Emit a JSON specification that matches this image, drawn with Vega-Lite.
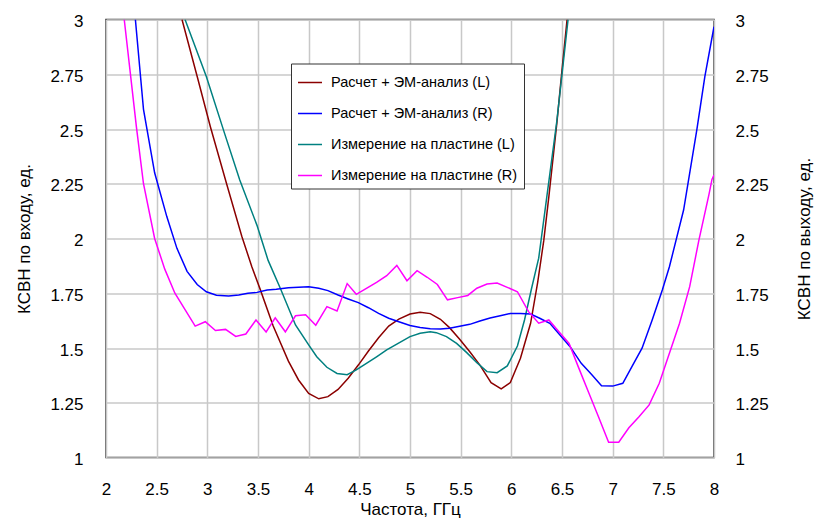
{
  "$schema": "https://vega.github.io/schema/vega-lite/v6.json",
  "autosize": {"type": "none"},
  "padding": {"left": 106, "top": 19.5, "right": 102, "bottom": 71.5},
  "width": 608,
  "height": 438,
  "background": "white",
  "config": {
    "font": "Liberation Sans, Arial, sans-serif",
    "view": {"stroke": "#333333", "strokeWidth": 1.5},
    "axis": {
      "labelFont": "Liberation Sans, sans-serif",
      "titleFont": "Liberation Sans, sans-serif",
      "labelFontSize": 17,
      "titleFontSize": 17,
      "labelColor": "#000000",
      "titleColor": "#000000",
      "titleFontWeight": "normal",
      "ticks": false,
      "tickSize": 0,
      "domain": false,
      "gridColor": "#c8c8c8",
      "gridWidth": 1.5,
      "gridOpacity": 1
    },
    "legend": {
      "labelFont": "Liberation Sans, sans-serif",
      "labelFontSize": 14.5,
      "labelColor": "#000000"
    }
  },
  "data": {
    "values": [
      {"f": 2.75, "v": 3.0, "s": "Расчет + ЭМ-анализ (L)"},
      {"f": 2.90, "v": 2.74, "s": "Расчет + ЭМ-анализ (L)"},
      {"f": 3.03, "v": 2.51, "s": "Расчет + ЭМ-анализ (L)"},
      {"f": 3.19, "v": 2.25, "s": "Расчет + ЭМ-анализ (L)"},
      {"f": 3.34, "v": 2.01, "s": "Расчет + ЭМ-анализ (L)"},
      {"f": 3.44, "v": 1.87, "s": "Расчет + ЭМ-анализ (L)"},
      {"f": 3.52, "v": 1.77, "s": "Расчет + ЭМ-анализ (L)"},
      {"f": 3.65, "v": 1.60, "s": "Расчет + ЭМ-анализ (L)"},
      {"f": 3.80, "v": 1.44, "s": "Расчет + ЭМ-анализ (L)"},
      {"f": 3.90, "v": 1.354, "s": "Расчет + ЭМ-анализ (L)"},
      {"f": 4.00, "v": 1.293, "s": "Расчет + ЭМ-анализ (L)"},
      {"f": 4.10, "v": 1.268, "s": "Расчет + ЭМ-анализ (L)"},
      {"f": 4.19, "v": 1.278, "s": "Расчет + ЭМ-анализ (L)"},
      {"f": 4.29, "v": 1.311, "s": "Расчет + ЭМ-анализ (L)"},
      {"f": 4.39, "v": 1.362, "s": "Расчет + ЭМ-анализ (L)"},
      {"f": 4.49, "v": 1.422, "s": "Расчет + ЭМ-анализ (L)"},
      {"f": 4.59, "v": 1.486, "s": "Расчет + ЭМ-анализ (L)"},
      {"f": 4.69, "v": 1.547, "s": "Расчет + ЭМ-анализ (L)"},
      {"f": 4.79, "v": 1.600, "s": "Расчет + ЭМ-анализ (L)"},
      {"f": 4.89, "v": 1.632, "s": "Расчет + ЭМ-анализ (L)"},
      {"f": 5.00, "v": 1.655, "s": "Расчет + ЭМ-анализ (L)"},
      {"f": 5.10, "v": 1.663, "s": "Расчет + ЭМ-анализ (L)"},
      {"f": 5.20, "v": 1.657, "s": "Расчет + ЭМ-анализ (L)"},
      {"f": 5.30, "v": 1.631, "s": "Расчет + ЭМ-анализ (L)"},
      {"f": 5.39, "v": 1.593, "s": "Расчет + ЭМ-анализ (L)"},
      {"f": 5.49, "v": 1.540, "s": "Расчет + ЭМ-анализ (L)"},
      {"f": 5.59, "v": 1.483, "s": "Расчет + ЭМ-анализ (L)"},
      {"f": 5.69, "v": 1.422, "s": "Расчет + ЭМ-анализ (L)"},
      {"f": 5.80, "v": 1.342, "s": "Расчет + ЭМ-анализ (L)"},
      {"f": 5.90, "v": 1.313, "s": "Расчет + ЭМ-анализ (L)"},
      {"f": 5.99, "v": 1.342, "s": "Расчет + ЭМ-анализ (L)"},
      {"f": 6.09, "v": 1.453, "s": "Расчет + ЭМ-анализ (L)"},
      {"f": 6.19, "v": 1.613, "s": "Расчет + ЭМ-анализ (L)"},
      {"f": 6.26, "v": 1.80, "s": "Расчет + ЭМ-анализ (L)"},
      {"f": 6.32, "v": 1.99, "s": "Расчет + ЭМ-анализ (L)"},
      {"f": 6.37, "v": 2.19, "s": "Расчет + ЭМ-анализ (L)"},
      {"f": 6.45, "v": 2.53, "s": "Расчет + ЭМ-анализ (L)"},
      {"f": 6.50, "v": 2.77, "s": "Расчет + ЭМ-анализ (L)"},
      {"f": 6.55, "v": 3.0, "s": "Расчет + ЭМ-анализ (L)"},

      {"f": 2.29, "v": 3.0, "s": "Расчет + ЭМ-анализ (R)"},
      {"f": 2.37, "v": 2.59, "s": "Расчет + ЭМ-анализ (R)"},
      {"f": 2.48, "v": 2.30, "s": "Расчет + ЭМ-анализ (R)"},
      {"f": 2.60, "v": 2.10, "s": "Расчет + ЭМ-анализ (R)"},
      {"f": 2.70, "v": 1.955, "s": "Расчет + ЭМ-анализ (R)"},
      {"f": 2.80, "v": 1.85, "s": "Расчет + ЭМ-анализ (R)"},
      {"f": 2.90, "v": 1.79, "s": "Расчет + ЭМ-анализ (R)"},
      {"f": 2.99, "v": 1.757, "s": "Расчет + ЭМ-анализ (R)"},
      {"f": 3.09, "v": 1.741, "s": "Расчет + ЭМ-анализ (R)"},
      {"f": 3.21, "v": 1.737, "s": "Расчет + ЭМ-анализ (R)"},
      {"f": 3.31, "v": 1.742, "s": "Расчет + ЭМ-анализ (R)"},
      {"f": 3.40, "v": 1.750, "s": "Расчет + ЭМ-анализ (R)"},
      {"f": 3.49, "v": 1.754, "s": "Расчет + ЭМ-анализ (R)"},
      {"f": 3.59, "v": 1.765, "s": "Расчет + ЭМ-анализ (R)"},
      {"f": 3.68, "v": 1.768, "s": "Расчет + ЭМ-анализ (R)"},
      {"f": 3.80, "v": 1.775, "s": "Расчет + ЭМ-анализ (R)"},
      {"f": 3.90, "v": 1.777, "s": "Расчет + ЭМ-анализ (R)"},
      {"f": 4.00, "v": 1.780, "s": "Расчет + ЭМ-анализ (R)"},
      {"f": 4.10, "v": 1.773, "s": "Расчет + ЭМ-анализ (R)"},
      {"f": 4.19, "v": 1.762, "s": "Расчет + ЭМ-анализ (R)"},
      {"f": 4.29, "v": 1.742, "s": "Расчет + ЭМ-анализ (R)"},
      {"f": 4.39, "v": 1.724, "s": "Расчет + ЭМ-анализ (R)"},
      {"f": 4.49, "v": 1.707, "s": "Расчет + ЭМ-анализ (R)"},
      {"f": 4.59, "v": 1.684, "s": "Расчет + ЭМ-анализ (R)"},
      {"f": 4.69, "v": 1.658, "s": "Расчет + ЭМ-анализ (R)"},
      {"f": 4.79, "v": 1.636, "s": "Расчет + ЭМ-анализ (R)"},
      {"f": 4.89, "v": 1.620, "s": "Расчет + ЭМ-анализ (R)"},
      {"f": 5.00, "v": 1.603, "s": "Расчет + ЭМ-анализ (R)"},
      {"f": 5.10, "v": 1.594, "s": "Расчет + ЭМ-анализ (R)"},
      {"f": 5.20, "v": 1.588, "s": "Расчет + ЭМ-анализ (R)"},
      {"f": 5.30, "v": 1.587, "s": "Расчет + ЭМ-анализ (R)"},
      {"f": 5.39, "v": 1.590, "s": "Расчет + ЭМ-анализ (R)"},
      {"f": 5.49, "v": 1.599, "s": "Расчет + ЭМ-анализ (R)"},
      {"f": 5.59, "v": 1.608, "s": "Расчет + ЭМ-анализ (R)"},
      {"f": 5.69, "v": 1.623, "s": "Расчет + ЭМ-анализ (R)"},
      {"f": 5.79, "v": 1.637, "s": "Расчет + ЭМ-анализ (R)"},
      {"f": 5.89, "v": 1.647, "s": "Расчет + ЭМ-анализ (R)"},
      {"f": 5.99, "v": 1.658, "s": "Расчет + ЭМ-анализ (R)"},
      {"f": 6.09, "v": 1.657, "s": "Расчет + ЭМ-анализ (R)"},
      {"f": 6.19, "v": 1.655, "s": "Расчет + ЭМ-анализ (R)"},
      {"f": 6.28, "v": 1.636, "s": "Расчет + ЭМ-анализ (R)"},
      {"f": 6.38, "v": 1.613, "s": "Расчет + ЭМ-анализ (R)"},
      {"f": 6.48, "v": 1.559, "s": "Расчет + ЭМ-анализ (R)"},
      {"f": 6.58, "v": 1.506, "s": "Расчет + ЭМ-анализ (R)"},
      {"f": 6.69, "v": 1.430, "s": "Расчет + ЭМ-анализ (R)"},
      {"f": 6.79, "v": 1.380, "s": "Расчет + ЭМ-анализ (R)"},
      {"f": 6.89, "v": 1.328, "s": "Расчет + ЭМ-анализ (R)"},
      {"f": 7.00, "v": 1.326, "s": "Расчет + ЭМ-анализ (R)"},
      {"f": 7.10, "v": 1.339, "s": "Расчет + ЭМ-анализ (R)"},
      {"f": 7.19, "v": 1.415, "s": "Расчет + ЭМ-анализ (R)"},
      {"f": 7.29, "v": 1.499, "s": "Расчет + ЭМ-анализ (R)"},
      {"f": 7.39, "v": 1.628, "s": "Расчет + ЭМ-анализ (R)"},
      {"f": 7.49, "v": 1.765, "s": "Расчет + ЭМ-анализ (R)"},
      {"f": 7.56, "v": 1.871, "s": "Расчет + ЭМ-анализ (R)"},
      {"f": 7.70, "v": 2.13, "s": "Расчет + ЭМ-анализ (R)"},
      {"f": 7.83, "v": 2.495, "s": "Расчет + ЭМ-анализ (R)"},
      {"f": 7.91, "v": 2.74, "s": "Расчет + ЭМ-анализ (R)"},
      {"f": 8.00, "v": 2.967, "s": "Расчет + ЭМ-анализ (R)"},

      {"f": 2.78, "v": 3.0, "s": "Измерение на пластине (L)"},
      {"f": 2.99, "v": 2.74, "s": "Измерение на пластине (L)"},
      {"f": 3.17, "v": 2.48, "s": "Измерение на пластине (L)"},
      {"f": 3.32, "v": 2.267, "s": "Измерение на пластине (L)"},
      {"f": 3.49, "v": 2.06, "s": "Измерение на пластине (L)"},
      {"f": 3.60, "v": 1.90, "s": "Измерение на пластине (L)"},
      {"f": 3.72, "v": 1.773, "s": "Измерение на пластине (L)"},
      {"f": 3.87, "v": 1.605, "s": "Измерение на пластине (L)"},
      {"f": 4.00, "v": 1.514, "s": "Измерение на пластине (L)"},
      {"f": 4.08, "v": 1.460, "s": "Измерение на пластине (L)"},
      {"f": 4.18, "v": 1.412, "s": "Измерение на пластине (L)"},
      {"f": 4.28, "v": 1.384, "s": "Измерение на пластине (L)"},
      {"f": 4.38, "v": 1.378, "s": "Измерение на пластине (L)"},
      {"f": 4.47, "v": 1.400, "s": "Измерение на пластине (L)"},
      {"f": 4.57, "v": 1.430, "s": "Измерение на пластине (L)"},
      {"f": 4.67, "v": 1.460, "s": "Измерение на пластине (L)"},
      {"f": 4.77, "v": 1.491, "s": "Измерение на пластине (L)"},
      {"f": 4.87, "v": 1.518, "s": "Измерение на пластине (L)"},
      {"f": 5.00, "v": 1.552, "s": "Измерение на пластине (L)"},
      {"f": 5.10, "v": 1.567, "s": "Измерение на пластине (L)"},
      {"f": 5.20, "v": 1.574, "s": "Измерение на пластине (L)"},
      {"f": 5.26, "v": 1.570, "s": "Измерение на пластине (L)"},
      {"f": 5.36, "v": 1.552, "s": "Измерение на пластине (L)"},
      {"f": 5.46, "v": 1.521, "s": "Измерение на пластине (L)"},
      {"f": 5.56, "v": 1.479, "s": "Измерение на пластине (L)"},
      {"f": 5.66, "v": 1.433, "s": "Измерение на пластине (L)"},
      {"f": 5.76, "v": 1.392, "s": "Измерение на пластине (L)"},
      {"f": 5.86, "v": 1.387, "s": "Измерение на пластине (L)"},
      {"f": 5.96, "v": 1.418, "s": "Измерение на пластине (L)"},
      {"f": 6.06, "v": 1.509, "s": "Измерение на пластине (L)"},
      {"f": 6.13, "v": 1.628, "s": "Измерение на пластине (L)"},
      {"f": 6.20, "v": 1.773, "s": "Измерение на пластине (L)"},
      {"f": 6.27, "v": 1.91, "s": "Измерение на пластине (L)"},
      {"f": 6.35, "v": 2.19, "s": "Измерение на пластине (L)"},
      {"f": 6.45, "v": 2.54, "s": "Измерение на пластине (L)"},
      {"f": 6.56, "v": 3.0, "s": "Измерение на пластине (L)"},

      {"f": 2.18, "v": 3.0, "s": "Измерение на пластине (R)"},
      {"f": 2.30, "v": 2.51, "s": "Измерение на пластине (R)"},
      {"f": 2.37, "v": 2.25, "s": "Измерение на пластине (R)"},
      {"f": 2.48, "v": 2.00, "s": "Измерение на пластине (R)"},
      {"f": 2.58, "v": 1.86, "s": "Измерение на пластине (R)"},
      {"f": 2.68, "v": 1.75, "s": "Измерение на пластине (R)"},
      {"f": 2.88, "v": 1.600, "s": "Измерение на пластине (R)"},
      {"f": 2.98, "v": 1.620, "s": "Измерение на пластине (R)"},
      {"f": 3.08, "v": 1.580, "s": "Измерение на пластине (R)"},
      {"f": 3.18, "v": 1.585, "s": "Измерение на пластине (R)"},
      {"f": 3.28, "v": 1.553, "s": "Измерение на пластине (R)"},
      {"f": 3.38, "v": 1.564, "s": "Измерение на пластине (R)"},
      {"f": 3.48, "v": 1.628, "s": "Измерение на пластине (R)"},
      {"f": 3.58, "v": 1.573, "s": "Измерение на пластине (R)"},
      {"f": 3.67, "v": 1.638, "s": "Измерение на пластине (R)"},
      {"f": 3.77, "v": 1.574, "s": "Измерение на пластине (R)"},
      {"f": 3.87, "v": 1.647, "s": "Измерение на пластине (R)"},
      {"f": 3.97, "v": 1.652, "s": "Измерение на пластине (R)"},
      {"f": 4.07, "v": 1.604, "s": "Измерение на пластине (R)"},
      {"f": 4.18, "v": 1.689, "s": "Измерение на пластине (R)"},
      {"f": 4.28, "v": 1.669, "s": "Измерение на пластине (R)"},
      {"f": 4.38, "v": 1.794, "s": "Измерение на пластине (R)"},
      {"f": 4.47, "v": 1.745, "s": "Измерение на пластине (R)"},
      {"f": 4.57, "v": 1.772, "s": "Измерение на пластине (R)"},
      {"f": 4.67, "v": 1.800, "s": "Измерение на пластине (R)"},
      {"f": 4.77, "v": 1.830, "s": "Измерение на пластине (R)"},
      {"f": 4.87, "v": 1.877, "s": "Измерение на пластине (R)"},
      {"f": 4.97, "v": 1.807, "s": "Измерение на пластине (R)"},
      {"f": 5.07, "v": 1.853, "s": "Измерение на пластине (R)"},
      {"f": 5.17, "v": 1.823, "s": "Измерение на пластине (R)"},
      {"f": 5.27, "v": 1.790, "s": "Измерение на пластине (R)"},
      {"f": 5.37, "v": 1.720, "s": "Измерение на пластине (R)"},
      {"f": 5.47, "v": 1.730, "s": "Измерение на пластине (R)"},
      {"f": 5.57, "v": 1.740, "s": "Измерение на пластине (R)"},
      {"f": 5.66, "v": 1.773, "s": "Измерение на пластине (R)"},
      {"f": 5.76, "v": 1.792, "s": "Измерение на пластине (R)"},
      {"f": 5.86, "v": 1.797, "s": "Измерение на пластине (R)"},
      {"f": 5.96, "v": 1.777, "s": "Измерение на пластине (R)"},
      {"f": 6.06, "v": 1.757, "s": "Измерение на пластине (R)"},
      {"f": 6.17, "v": 1.666, "s": "Измерение на пластине (R)"},
      {"f": 6.27, "v": 1.613, "s": "Измерение на пластине (R)"},
      {"f": 6.37, "v": 1.628, "s": "Измерение на пластине (R)"},
      {"f": 6.47, "v": 1.574, "s": "Измерение на пластине (R)"},
      {"f": 6.57, "v": 1.521, "s": "Измерение на пластине (R)"},
      {"f": 6.66, "v": 1.415, "s": "Измерение на пластине (R)"},
      {"f": 6.76, "v": 1.300, "s": "Измерение на пластине (R)"},
      {"f": 6.86, "v": 1.186, "s": "Измерение на пластине (R)"},
      {"f": 6.96, "v": 1.070, "s": "Измерение на пластине (R)"},
      {"f": 7.06, "v": 1.070, "s": "Измерение на пластине (R)"},
      {"f": 7.16, "v": 1.136, "s": "Измерение на пластине (R)"},
      {"f": 7.26, "v": 1.186, "s": "Измерение на пластине (R)"},
      {"f": 7.36, "v": 1.240, "s": "Измерение на пластине (R)"},
      {"f": 7.46, "v": 1.339, "s": "Измерение на пластине (R)"},
      {"f": 7.56, "v": 1.476, "s": "Измерение на пластине (R)"},
      {"f": 7.66, "v": 1.613, "s": "Измерение на пластине (R)"},
      {"f": 7.76, "v": 1.780, "s": "Измерение на пластине (R)"},
      {"f": 7.85, "v": 1.990, "s": "Измерение на пластине (R)"},
      {"f": 7.95, "v": 2.200, "s": "Измерение на пластине (R)"},
      {"f": 7.98, "v": 2.270, "s": "Измерение на пластине (R)"},
      {"f": 8.00, "v": 2.290, "s": "Измерение на пластине (R)"}
    ]
  },
  "encoding": {
    "x": {
      "field": "f",
      "type": "quantitative",
      "scale": {"domain": [2, 8], "nice": false, "zero": false},
      "axis": {
        "title": "Частота, ГГц",
        "values": [2, 2.5, 3, 3.5, 4, 4.5, 5, 5.5, 6, 6.5, 7, 7.5, 8],
        "format": ".3~g",
        "grid": true,
        "labelPadding": 37,
        "labelBaseline": "alphabetic",
        "labelFlush": false,
        "titleX": 304,
        "titleY": 57,
        "titleAnchor": "middle",
        "titleAlign": "center",
        "titleBaseline": "alphabetic"
      }
    },
    "color": {
      "field": "s",
      "type": "nominal",
      "scale": {
        "domain": ["Расчет + ЭМ-анализ (L)", "Расчет + ЭМ-анализ (R)", "Измерение на пластине (L)", "Измерение на пластине (R)"],
        "range": ["#8b0000", "#0000ff", "#008080", "#ff00ff"]
      },
      "legend": {
        "title": null,
        "orient": "none",
        "legendX": 185,
        "legendY": 44,
        "fillColor": "#ffffff",
        "strokeColor": "#333333",
        "padding": 6,
        "symbolType": "stroke",
        "symbolSize": 576,
        "symbolStrokeWidth": 1.5,
        "labelOffset": 8,
        "rowPadding": 11,
        "labelLimit": 400
      }
    }
  },
  "layer": [
    {
      "transform": [{"filter": "indexof(datum.s, '(L)') >= 0"}],
      "mark": {"type": "line", "clip": true, "strokeWidth": 1.5},
      "encoding": {
        "y": {
          "field": "v",
          "type": "quantitative",
          "scale": {"domain": [1, 3], "nice": false, "zero": false},
          "axis": {
            "orient": "left",
            "title": "КСВН по входу, ед.",
            "values": [1, 1.25, 1.5, 1.75, 2, 2.25, 2.5, 2.75, 3],
            "format": ".3~g",
            "grid": true,
            "labelPadding": 23,
            "labelFlush": false,
            "labelOffset": 2,
            "titleAngle": -90,
            "titleX": -82,
            "titleY": 219,
            "titleAlign": "center",
            "titleBaseline": "middle"
          }
        }
      }
    },
    {
      "transform": [{"filter": "indexof(datum.s, '(R)') >= 0"}],
      "mark": {"type": "line", "clip": true, "strokeWidth": 1.5},
      "encoding": {
        "y": {
          "field": "v",
          "type": "quantitative",
          "scale": {"domain": [1, 3], "nice": false, "zero": false},
          "axis": {
            "orient": "right",
            "title": "КСВН по выходу, ед.",
            "values": [1, 1.25, 1.5, 1.75, 2, 2.25, 2.5, 2.75, 3],
            "format": ".3~g",
            "grid": false,
            "labelPadding": 21,
            "labelFlush": false,
            "labelOffset": 2,
            "titleAngle": -90,
            "titleX": 90,
            "titleY": 219,
            "titleAlign": "center",
            "titleBaseline": "middle"
          }
        }
      }
    }
  ],
  "resolve": {"scale": {"y": "independent"}}
}
